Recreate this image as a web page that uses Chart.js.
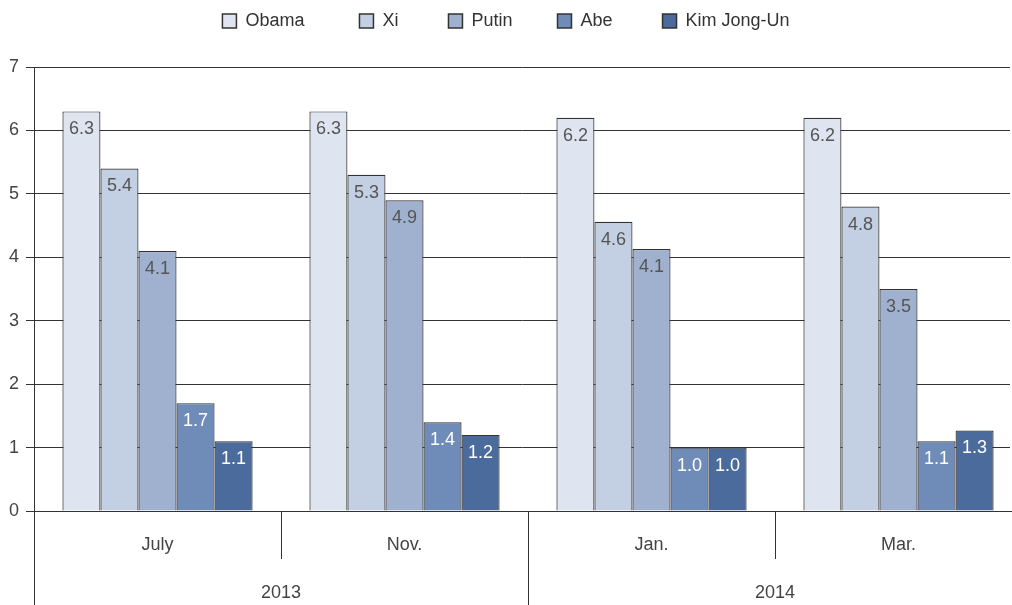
<!DOCTYPE html>
<html>
<head>
<meta charset="utf-8">
<script src="https://cdn.jsdelivr.net/npm/chart.js@4/dist/chart.umd.min.js"></script>
<style>
  html, body { margin: 0; padding: 0; background: #fff; }
  #wrap { width: 1012px; height: 605px; }
</style>
</head>
<body>
<div id="wrap"><canvas id="grafico" width="1012" height="605"></canvas></div>
<script>
// dati
var mesi = ['July', 'Nov.', 'Jan.', 'Mar.'];
var anni = ['2013', '2014'];
var leaders = ['Obama', 'Xi', 'Putin', 'Abe', 'Kim Jong-Un'];
var obama = [6.3, 6.3, 6.2, 6.2];
var xi = [5.4, 5.3, 4.56, 4.8];
var putin = [4.1, 4.9, 4.13, 3.5];
var abe = [1.7, 1.4, 1.0, 1.1];
var kim = [1.1, 1.2, 1.0, 1.27];
var yTicks = [0, 1, 2, 3, 4, 5, 6, 7];

var colori = ['#dfe5f0', '#c3cfe2', '#9fb1cf', '#6f8cb8', '#4b6b9c'];
var coloriTesto = ['#555', '#555', '#555', '#fff', '#fff'];
var spaziLegenda = [9, 8, 7, 8, 0];
var serie = [obama, xi, putin, abe, kim];
var linea = '#333';
var font = 'Liberation Sans, Arial, sans-serif';

Chart.defaults.font.family = font;
Chart.defaults.font.size = 18;
Chart.defaults.color = '#444';

// etichette dentro le barre
var etichette = {
    id: 'etichette',
    afterDatasetsDraw: function(chart){
        var ctx = chart.ctx;
        ctx.save();
        ctx.font = '18px ' + font;
        ctx.textAlign = 'center';
        ctx.textBaseline = 'middle';
        chart.data.datasets.forEach(function(ds, i){
            var meta = chart.getDatasetMeta(i);
            meta.data.forEach(function(bar, j){
                ctx.fillStyle = coloriTesto[i];
                ctx.fillText(ds.data[j].toFixed(1), bar.x, bar.y + 18);
            });
        });
        ctx.restore();
    }
};

// spazio sotto la legenda
var spazioLegenda = {
    id: 'spazioLegenda',
    afterInit: function(chart){
        var fitOrig = chart.legend.fit;
        chart.legend.fit = function(){
            fitOrig.call(this);
            this.height += 27;
        };
    }
};

// il grafico originale è tagliato a destra: allungo gli assi x oltre il bordo
var tagliaDestra = {
    id: 'tagliaDestra',
    afterLayout: function(chart){
        ['x', 'x2'].forEach(function(id){
            var s = chart.scales[id];
            s.right += 12;
            s.width += 12;
            s.configure();
        });
    }
};

// separatori tra mesi e anni sotto l'asse
var separatori = {
    id: 'separatori',
    afterDraw: function(chart){
        var ctx = chart.ctx;
        var sx = chart.scales.x;
        var sy = chart.scales.x2;
        ctx.save();
        ctx.strokeStyle = linea;
        ctx.lineWidth = 1;
        ctx.beginPath();
        // bordo sinistro fino in fondo
        var x0 = Math.round(chart.chartArea.left) + 0.5;
        ctx.moveTo(x0, sx.top);
        ctx.lineTo(x0, chart.height);
        for (var i = 1; i < mesi.length; i++) {
            var xm = Math.round((sx.getPixelForValue(i - 1) + sx.getPixelForValue(i)) / 2) + 0.5;
            ctx.moveTo(xm, sx.top);
            ctx.lineTo(xm, sx.top + 48);
        }
        for (var k = 1; k < anni.length; k++) {
            var xa = Math.round((sy.getPixelForValue(k - 1) + sy.getPixelForValue(k)) / 2) + 0.5;
            ctx.moveTo(xa, sx.top);
            ctx.lineTo(xa, chart.height);
        }
        ctx.stroke();
        ctx.restore();
    }
};

var datasets = leaders.map(function(nome, i){
    return {
        label: nome,
        data: serie[i],
        backgroundColor: colori[i],
        borderColor: linea,
        borderWidth: 1.2,
        xAxisID: 'x'
    };
});

var ctx = document.getElementById('grafico');
var chart = new Chart(ctx, {
    type: 'bar',
    data: {
        labels: mesi,
        datasets: datasets
    },
    options: {
        responsive: false,
        animation: false,
        devicePixelRatio: 1,
        categoryPercentage: 0.77,
        barPercentage: 1.0,
        layout: { padding: { left: 2, right: 2, top: 2, bottom: 0 } },
        plugins: {
            tooltip: { enabled: false },
            legend: {
                position: 'top',
                labels: {
                    boxWidth: 14,
                    boxHeight: 14,
                    padding: 10,
                    color: '#333',
                    font: { size: 18 },
                    generateLabels: function(chart){
                        return chart.data.datasets.map(function(ds, i){
                            return {
                                text: ds.label + '\u00a0'.repeat(spaziLegenda[i]),
                                fillStyle: ds.backgroundColor,
                                strokeStyle: linea,
                                lineWidth: 1.5,
                                fontColor: '#333',
                                datasetIndex: i
                            };
                        });
                    }
                }
            }
        },
        scales: {
            y: {
                min: 0,
                max: 7,
                afterBuildTicks: function(scale){
                    scale.ticks = yTicks.map(function(v){ return { value: v }; });
                },
                grid: { color: linea, lineWidth: 1, tickLength: 8 },
                border: { display: true, color: linea, width: 1 },
                ticks: { padding: 7, color: '#444', font: { size: 18 } }
            },
            x: {
                type: 'category',
                position: 'bottom',
                weight: 1,
                offset: true,
                grid: { display: false, drawTicks: false },
                border: { display: true, color: linea, width: 1 },
                ticks: { padding: 23, color: '#444', font: { size: 18 } },
                afterFit: function(scale){ scale.height = 46; }
            },
            x2: {
                type: 'category',
                labels: anni,
                position: 'bottom',
                weight: 2,
                offset: true,
                grid: { display: false, drawTicks: false },
                border: { display: false },
                ticks: { padding: 25, color: '#444', font: { size: 18 } },
                afterFit: function(scale){ scale.height = 48; }
            }
        }
    },
    plugins: [etichette, spazioLegenda, tagliaDestra, separatori]
});
</script>
</body>
</html>
